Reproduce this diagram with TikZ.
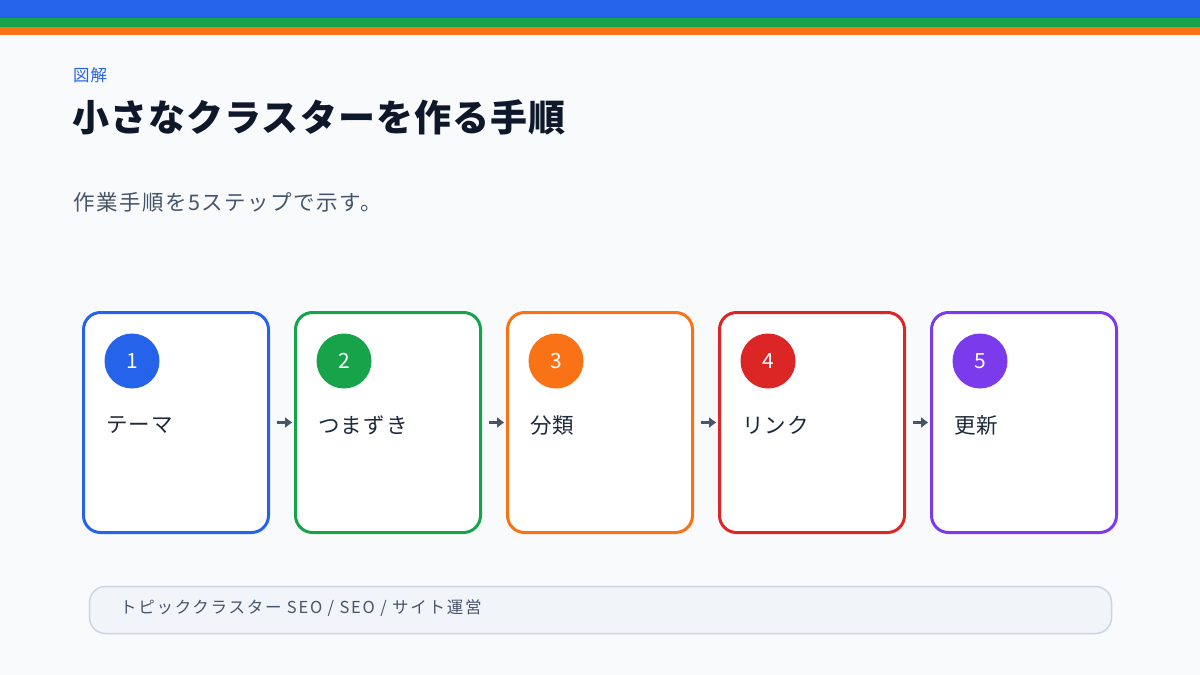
\documentclass[tikz,border=0pt]{standalone}
\usepackage{fontspec}
\setmainfont{Noto Sans CJK JP}
\newfontfamily\jpfont{Noto Sans CJK JP}
\usetikzlibrary{arrows.meta,calc}
\definecolor{cblue}{HTML}{2563EB}
\definecolor{cgreen}{HTML}{16A34A}
\definecolor{corange}{HTML}{F97316}
\definecolor{cred}{HTML}{DC2626}
\definecolor{cpurple}{HTML}{7C3AED}
\definecolor{bgc}{HTML}{F8FAFC}
\definecolor{titlec}{HTML}{0F172A}
\definecolor{subc}{HTML}{475569}
\definecolor{bodyc}{HTML}{1E293B}
\definecolor{footfill}{HTML}{F1F5F9}
\definecolor{footline}{HTML}{CBD5E1}
\tikzset{
  stepbox/.style={draw=#1, fill=white, line width=3pt, rounded corners=17pt,
    minimum width=185pt, minimum height=220pt, inner sep=0pt},
  numdot/.style={circle, fill=#1, minimum size=55pt, inner sep=0pt, text=white,
    font=\jpfont\fontsize{21}{24}\selectfont},
  steplabel/.style={anchor=west, inner sep=0pt, text=bodyc,
    font=\jpfont\fontsize{21.5}{25}\selectfont\addfontfeatures{LetterSpace=6}},
  flowarrow/.style={draw=subc, line width=2.5pt, -{Triangle[length=7pt,width=10pt]}},
}
\begin{document}
\begin{tikzpicture}[x=1pt,y=-1pt]
\useasboundingbox (0,0) rectangle (1200,675);
\fill[bgc] (0,0) rectangle (1200,675);
\fill[cblue] (0,0) rectangle (1200,18);
\fill[cgreen] (0,18) rectangle (1200,27);
\fill[corange] (0,27) rectangle (1200,35);

\node[anchor=west, inner sep=0pt, text=cblue, font=\jpfont\fontsize{16.5}{18}\selectfont\addfontfeatures{LetterSpace=5}] (kicker) at (73,75) {図解};
\node[anchor=west, inner sep=0pt, text=titlec, font=\jpfont\bfseries\fontsize{37}{42}\selectfont\addfontfeatures{LetterSpace=3}] (title) at (72,117) {小さなクラスターを作る手順};
\node[anchor=west, inner sep=0pt, text=subc, font=\jpfont\fontsize{21.5}{25}\selectfont\addfontfeatures{LetterSpace=7}] (sub) at (73,202) {作業手順を5ステップで示す。};

\foreach \i/\x/\c/\t in {1/176/cblue/テーマ, 2/388/cgreen/つまずき, 3/600/corange/分類, 4/812/cred/リンク, 5/1024/cpurple/更新}{
  \node[stepbox=\c] (b\i) at (\x,422.5) {};
  \node[numdot=\c] (n\i) at (\x-44,361) {\i};
  \node[steplabel] (t\i) at (\x-70,425) {\t};
}
\foreach \a/\b in {1/2,2/3,3/4,4/5}{
  \draw[flowarrow] ([xshift=7pt]b\a.east) -- ([xshift=-2pt]b\b.west);
}

\node[draw=footline, fill=footfill, line width=1.5pt, rounded corners=16pt,
  minimum width=1022pt, minimum height=47pt, inner sep=0pt] (foot) at (600.5,610) {};
\node[anchor=west, inner sep=0pt, text=subc, font=\jpfont\fontsize{16.5}{19}\selectfont\addfontfeatures{LetterSpace=10.5}] (foottext) at (120,608) {トピッククラスター SEO / SEO / サイト運営};
\end{tikzpicture}
\end{document}
